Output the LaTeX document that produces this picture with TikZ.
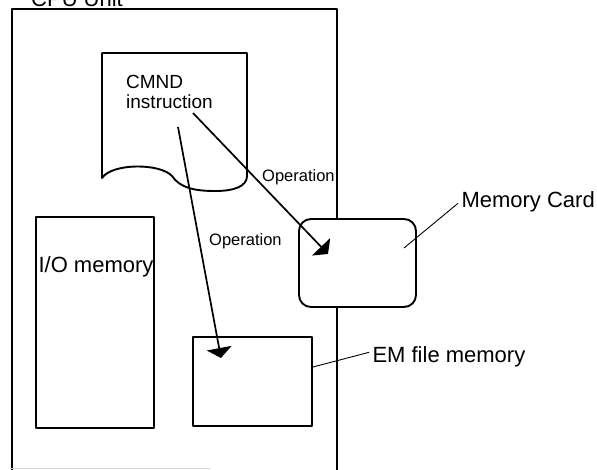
\documentclass[tikz,border=0pt]{standalone}
\usepackage{fontspec}
\setmainfont{Liberation Sans}
\usetikzlibrary{arrows.meta,positioning}
\tikzset{
	box/.style={draw, line width=1.9pt, fill=white, inner sep=0pt},
	oparrow/.style={line width=1.7pt, -{Triangle[length=10pt, width=25pt]}},
	leader/.style={line width=0.9pt},
	bigtext/.style={font=\fontsize{22}{25}\selectfont},
	optext/.style={font=\fontsize{16.5}{19}\selectfont, inner sep=0pt},
}
\begin{document}
\begin{tikzpicture}[x=1pt, y=-1pt, line join=round]
	\useasboundingbox (0,0) rectangle (597,469);
	
	% CPU Unit
	\draw[line width=1.9pt] (12,475) -- (12,9) -- (337,9) -- (337,475);
	\draw[gray!35, line width=0.6pt] (10,468) -- (210,468);
	\node[bigtext, anchor=base west, inner sep=0pt] (cpu) at (31,6) {CPU Unit};
	
	% CMND instruction sheet
	\draw[line width=1.9pt, fill=white] (102,178) -- (102,53) -- (247,53) -- (247,176)
		.. controls (247,186) and (235,191) .. (215,191)
		.. controls (195,191) and (180,188) .. (172,176)
		.. controls (160,163) and (112,163) .. (102,178) -- cycle;
	\node[anchor=north west, align=left, inner sep=0pt, font=\fontsize{19}{20}\selectfont] (cmnd) at (126,75) {CMND\\instruction};
	
	% memories
	\node[box, minimum width=118pt, minimum height=211pt] (io) at (95,322.5) {};
	\node[bigtext, anchor=base, inner sep=0pt] (iolbl) at (96,272) {I/O memory};
	%
	\node[box, minimum width=119pt, minimum height=89pt] (em) at (252.5,381.5) {};
	\node[bigtext, anchor=base west] (emlbl) at (369,362) {EM file memory};
	\draw[leader] ([yshift=14.5pt]em.east) -- ([yshift=4pt]emlbl.west);
	%
	\node[box, rounded corners=12pt, minimum width=117pt, minimum height=88pt] (card) at (357.5,263) {};
	\node[bigtext, anchor=base west] (cardlbl) at (458,207) {Memory Card};
	\coordinate (cardpt) at (404,248);
	\draw[leader] (cardpt) -- ([yshift=-2pt]cardlbl.west);
	
	% operations
	\coordinate (opA) at (193,113);
	\coordinate (opB) at (178,127);
	\coordinate (cardin) at (328,254);
	\coordinate (emin) at (221,358);
	\draw[oparrow] (opA) -- (cardin);
	\draw[oparrow] (opB) -- (emin);
	\node[optext, anchor=base west] (opAlbl) at (262,181) {Operation};
	\node[optext, anchor=base west] (opBlbl) at (209,245) {Operation};
\end{tikzpicture}
\end{document}
